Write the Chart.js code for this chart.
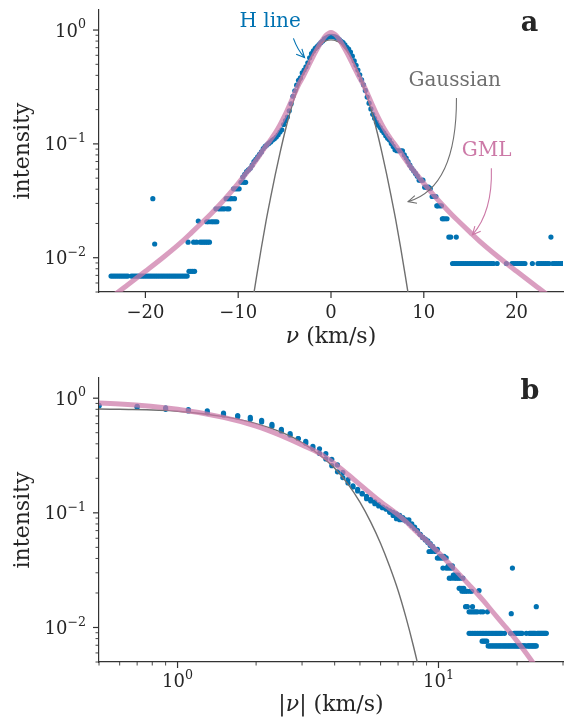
<!DOCTYPE html>
<html>
<head>
<meta charset="utf-8">
<script src="https://cdn.jsdelivr.net/npm/chart.js@4.4.0/dist/chart.umd.min.js"></script>
<style>
  html, body { margin: 0; padding: 0; background: #fff; }
  #wrap { position: relative; width: 567px; height: 719px; }
  .panel { position: absolute; left: 0; }
</style>
</head>
<body>
<div id="wrap">
  <div class="panel" style="top:0"><canvas id="chartA" width="567" height="360"></canvas></div>
  <div class="panel" style="top:360px"><canvas id="chartB" width="567" height="359"></canvas></div>
</div>
<script>
// measured H line profile (velocity in km/s, normalised intensity)
const velocity = [
  -23.7,-23.5,-23.3,-23.1,-22.9,-22.7,-22.5,-22.3,-22.1,-21.9,
  -21.5,-21.3,-21.1,-20.9,-20.7,-20.5,-20.3,-20.1,-19.9,-19.7,
  -19.5,-19.3,-19.1,-18.9,-18.7,-18.5,-18.3,-18.1,-17.9,-17.7,
  -17.5,-17.3,-17.1,-16.9,-16.7,-16.5,-16.3,-16.1,-15.9,-15.7,-15.5,
  -19.2,-19.0,-15.4,-15.3,-15.1,-14.9,-14.7,-14.8,-14.5,-14.3,
  -14.1,-13.9,-13.7,-13.5,-13.3,-13.1,-13.4,-13.2,-12.9,-12.7,-12.5,-12.3,
  -12.4,-12.1,-11.9,-11.7,-11.5,-11.2,-11.0,-11.3,-11.1,-10.9,-10.7,-10.4,
  -10.5,-10.3,-10.1,-9.9,-9.7,-9.4,-9.2,
  -9.5,-9.3,-9.1,-8.9,-8.7,-8.5,-8.3,-8.1,-7.9,-7.7,
  -7.5,-7.3,-7.1,-6.9,-6.7,-6.5,-6.3,-6.1,-5.9,-5.7,
  -5.5,-5.3,-5.1,-4.9,-4.7,-4.5,-4.3,-4.1,-3.9,-3.7,
  -3.5,-3.3,-3.1,-2.9,-2.7,-2.5,-2.3,-2.1,-1.9,-1.7,
  -1.5,-1.3,-1.1,-0.9,-0.7,-0.5,-0.3,-0.1,
  0.1,0.3,0.5,0.7,0.9,1.1,1.3,1.5,1.7,1.9,
  2.1,2.3,2.5,2.7,2.9,3.1,3.3,3.5,3.7,3.9,
  4.1,4.3,4.5,4.7,4.9,5.1,5.3,5.5,5.7,5.9,
  6.1,6.3,6.5,6.7,6.9,7.1,7.3,7.5,7.7,7.9,
  8.1,8.3,8.5,8.7,8.9,9.1,9.3,9.5,9.7,9.9,
  10.1,10.3,10.5,10.7,10.9,11.1,11.3,11.5,11.7,11.9,11.4,
  12.1,12.3,12.5,12.0,12.7,12.9,13.5,23.7,
  13.1,13.3,13.5,13.7,13.9,14.1,14.3,14.5,14.7,14.9,15.1,15.3,
  15.5,15.7,15.9,16.1,16.3,16.5,16.7,16.9,17.1,17.3,17.5,
  17.9,18.9,19.5,19.7,19.9,20.1,20.3,20.5,20.7,20.9,21.7,
  22.3,22.5,22.7,22.9,23.1,23.3,23.5,23.9,24.1,24.3,24.5,24.7,
  24.9,25.1,25.3,25.5,25.7,25.9
];
const intensity = [
  .0069,.0069,.0069,.0069,.0069,.0069,.0069,.0069,.0069,.0069,
  .0069,.0069,.0069,.0069,.0069,.0069,.0069,.0069,.0069,.0069,
  .0069,.0069,.0069,.0069,.0069,.0069,.0069,.0069,.0069,.0069,
  .0069,.0069,.0069,.0069,.0069,.0069,.0069,.0069,.0069,.0069,.0069,
  .033,.0132,.0137,.0076,.0076,.0076,.0076,.0137,.0137,.021,
  .0137,.0137,.0137,.0137,.0137,.0137,.0207,.0207,.0207,.0207,.0207,.0207,
  .0269,.0269,.0269,.0269,.0269,.0269,.0269,.033,.033,.033,.033,.033,
  .0403,.0403,.0403,.0403,.046,.046,.046,
  .051,.054,.057,.059,.061,.065,.070,.073,.077,.081,
  .085,.091,.095,.098,.101,.104,.108,.111,.115,.120,
  .127,.133,.148,.160,.172,.195,.225,.262,.293,.328,
  .362,.380,.420,.445,.475,.515,.570,.620,.655,.690,
  .715,.745,.775,.800,.835,.855,.872,.880,
  .880,.875,.865,.850,.825,.795,.775,.740,.705,.680,
  .640,.590,.535,.490,.445,.405,.365,.330,.295,.258,
  .228,.203,.182,.168,.155,.146,.139,.131,.125,.118,
  .112,.108,.101,.095,.089,.087,.087,.087,.087,.080,
  .075,.070,.065,.061,.058,.055,.052,.048,.048,.048,
  .0417,.0417,.0417,.0405,.0345,.0345,.0345,.0286,.0286,.0286,.0286,
  .022,.022,.022,.022,.0152,.0152,.0152,.0152,
  .0089,.0089,.0089,.0089,.0089,.0089,.0089,.0089,.0089,.0089,.0089,.0089,
  .0089,.0089,.0089,.0089,.0089,.0089,.0089,.0089,.0089,.0089,.0089,
  .0089,.0089,.0089,.0089,.0089,.0089,.0089,.0089,.0089,.0089,.0089,
  .0089,.0089,.0089,.0089,.0089,.0089,.0089,.0089,.0089,.0089,.0089,.0089,
  .0089,.0089,.0089,.0089,.0089,.0089
];

const curveV   = [0, 0.3, 0.6, 1, 1.5, 2, 2.5, 3, 3.5, 4, 4.5, 5, 5.5, 6, 6.5, 7, 7.5, 8, 8.5, 9, 10, 11, 12, 13, 14, 15, 16, 18, 20, 22, 24, 26];
const gmlI     = [0.95, 0.93, 0.89, 0.80, 0.68, 0.57, 0.47, 0.39, 0.33, 0.268, 0.216, 0.176, 0.147, 0.125, 0.109, 0.096, 0.084, 0.073, 0.064, 0.057, 0.045, 0.036, 0.0292, 0.0240, 0.0200, 0.0167, 0.0140, 0.0102, 0.0076, 0.0057, 0.0043, 0.0033];
const gaussV   = [0, 0.3, 0.6, 1, 1.5, 2, 2.5, 3, 3.5, 4, 4.5, 5, 5.5, 6, 6.5, 7, 7.5, 8, 8.5, 9];
const gaussI   = [0.82, 0.815, 0.80, 0.77, 0.69, 0.60, 0.505, 0.41, 0.32, 0.245, 0.178, 0.124, 0.083, 0.054, 0.034, 0.021, 0.0123, 0.0070, 0.0039, 0.0021];

const xTicksA = [-20, -10, 0, 10, 20];
const xLabelsA = ['\u221220', '\u221210', '0', '10', '20'];
const yMajor = [0.01, 0.1, 1];
const yExp = ['\u22122', '\u22121', '0'];
const xMajorB = [1, 10];
const xExpB = ['0', '1'];
// axis titles as [text, italic] pieces
const xTitleA = [['\u03bd', true], [' (km/s)', false]];
const xTitleB = [['|', false], ['\u03bd', true], ['| (km/s)', false]];

const blue = '#0072B2', pink = '#CC79A7', grey = '#6f6f6f', ink = '#262626', spine = '#333333';
Chart.defaults.font.family = "'DejaVu Serif', serif";
Chart.defaults.color = ink;

function minorTicks(lo, hi) {
  const out = [];
  for (let e = Math.floor(Math.log10(lo)); e <= Math.ceil(Math.log10(hi)); e++) {
    for (let m = 2; m <= 9; m++) {
      const v = m * Math.pow(10, e);
      if (v >= lo * 0.999 && v <= hi * 1.001) out.push(v);
    }
  }
  return out;
}
function logTicks(major, exps, lo, hi) {
  return major.map((v, i) => ({value: v, major: true, exp: exps[i]}))
    .concat(minorTicks(lo, hi).map(v => ({value: v, major: false})))
    .sort((a, b) => a.value - b.value);
}
function labelFor(values, labels) {
  return v => {
    const i = values.findIndex(t => Math.abs(t - v) < 1e-9 * Math.max(1, Math.abs(t)));
    return i >= 0 ? labels[i] : null;
  };
}

const points = velocity.map((v, i) => ({x: v, y: intensity[i]}));
const mirror = (xs, ys) => {
  const left = xs.slice(1).map((v, i) => ({x: -v, y: ys[i + 1]})).reverse();
  return left.concat(xs.map((v, i) => ({x: v, y: ys[i]})));
};
const positive = (xs, ys) => xs.map((v, i) => ({x: v, y: ys[i]})).filter(p => p.x > 0);

// annotations in data coordinates
const notes = {
  chartA: [
    {text: 'H line', color: blue, at: [-6.56, 1.175], arrow: {from: [-4.05, 0.846], ctrl: [-3.6, 0.668], to: [-2.85, 0.574]}},
    {text: 'Gaussian', color: grey, at: [13.33, 0.357], arrow: {from: [13.52, 0.253], ctrl: [13.55, 0.0412], to: [8.31, 0.0311]}},
    {text: 'GML', color: pink, at: [16.77, 0.0866], arrow: {from: [17.28, 0.0611], ctrl: [17.42, 0.0253], to: [15.24, 0.0159]}},
    {text: 'a', color: ink, bold: true, at: [21.4, 1.129]}
  ],
  chartB: [
    {text: 'b', color: ink, bold: true, at: [22.4, 1.13]}
  ]
};
const xTitles = {chartA: {parts: xTitleA, dy: 45}, chartB: {parts: xTitleB, dy: 43}};

const notePlugin = {
  id: 'notes',
  afterDraw(chart) {
    const list = notes[chart.canvas.id] || [];
    const {ctx, chartArea: area} = chart;
    const sx = chart.scales.x, sy = chart.scales.y;
    const px = p => [sx.getPixelForValue(p[0]), sy.getPixelForValue(p[1])];
    ctx.save();
    list.forEach(n => {
      const [tx, ty] = px(n.at);
      ctx.fillStyle = n.color;
      ctx.font = n.bold ? "bold 27px 'DejaVu Serif'" : "20px 'DejaVu Serif'";
      ctx.textAlign = 'center';
      ctx.textBaseline = 'middle';
      ctx.fillText(n.text, tx, ty);
      if (n.arrow) {
        const a = px(n.arrow.from), c = px(n.arrow.ctrl), b = px(n.arrow.to);
        ctx.strokeStyle = n.color;
        ctx.lineWidth = 1.1;
        ctx.beginPath();
        ctx.moveTo(a[0], a[1]);
        ctx.quadraticCurveTo(c[0], c[1], b[0], b[1]);
        ctx.stroke();
        const ang = Math.atan2(b[1] - c[1], b[0] - c[0]);
        const L = 9, w = 0.45;
        ctx.beginPath();
        ctx.moveTo(b[0] - L * Math.cos(ang - w), b[1] - L * Math.sin(ang - w));
        ctx.lineTo(b[0], b[1]);
        ctx.lineTo(b[0] - L * Math.cos(ang + w), b[1] - L * Math.sin(ang + w));
        ctx.stroke();
      }
    });
    // x axis title with an italic nu
    const t = xTitles[chart.canvas.id];
    if (t) {
      const fontOf = it => (it ? 'italic ' : '') + "22px 'DejaVu Serif'";
      const widths = t.parts.map(([s, it]) => { ctx.font = fontOf(it); return ctx.measureText(s).width; });
      let x = (area.left + area.right) / 2 - widths.reduce((a, b) => a + b, 0) / 2;
      ctx.fillStyle = ink;
      ctx.textAlign = 'left';
      ctx.textBaseline = 'middle';
      t.parts.forEach(([s, it], i) => {
        ctx.font = fontOf(it);
        ctx.fillText(s, x, area.bottom + t.dy);
        x += widths[i];
      });
    }
    ctx.restore();
  }
};

// tick marks (major longer than minor) and 10^n labels on the log axes
const tickPlugin = {
  id: 'tickMarks',
  afterDraw(chart) {
    const {ctx, chartArea: area} = chart;
    ctx.save();
    Object.values(chart.scales).forEach(s => {
      s.ticks.forEach(t => {
        const p = s.getPixelForValue(t.value);
        const len = t.major ? 6 : 3.5;
        ctx.strokeStyle = spine;
        ctx.lineWidth = t.major ? 1.2 : 0.9;
        ctx.beginPath();
        if (s.isHorizontal()) {
          if (p < area.left - 0.5 || p > area.right + 0.5) return;
          ctx.moveTo(p, area.bottom); ctx.lineTo(p, area.bottom + len);
        } else {
          if (p < area.top - 0.5 || p > area.bottom + 0.5) return;
          ctx.moveTo(area.left, p); ctx.lineTo(area.left - len, p);
        }
        ctx.stroke();
        if (s.type !== 'logarithmic' || !t.exp) return;
        ctx.fillStyle = ink;
        ctx.textBaseline = 'alphabetic';
        ctx.textAlign = 'left';
        ctx.font = "18px 'DejaVu Serif'";
        const wb = ctx.measureText('10').width;
        ctx.font = "12.6px 'DejaVu Serif'";
        const we = ctx.measureText(t.exp).width;
        let x0, base;
        if (s.isHorizontal()) {
          x0 = p - (wb + we) / 2;
          base = area.bottom + 25;
        } else {
          x0 = area.left - 13 - wb - we;
          base = p + 6.6;
        }
        ctx.font = "18px 'DejaVu Serif'";
        ctx.fillText('10', x0, base);
        ctx.font = "12.6px 'DejaVu Serif'";
        ctx.fillText(t.exp, x0 + wb, base - 8.5);
      });
    });
    ctx.restore();
  }
};

const tickFont = {size: 18};
const titleFont = {size: 22};

function yAxis() {
  return {
    type: 'logarithmic', min: 0.005, max: 1.5,
    afterBuildTicks: s => { s.ticks = logTicks(yMajor, yExp, 0.005, 1.5); },
    afterFit: s => { s.width = 99; s.paddingTop = 0; s.paddingBottom = 0; },
    ticks: {display: false},
    grid: {display: false},
    border: {display: true, color: spine, width: 1.2},
    title: {display: true, text: 'intensity', font: titleFont, color: ink, padding: {top: 10, bottom: 0}}
  };
}

function datasets(gml, gauss, pts) {
  return [
    {type: 'line', data: gml, borderColor: 'rgba(204,121,167,0.72)', borderWidth: 5, pointRadius: 0,
     cubicInterpolationMode: 'monotone', fill: false, order: 1, clip: 0},
    {type: 'line', data: gauss, borderColor: grey, borderWidth: 1.4, pointRadius: 0,
     cubicInterpolationMode: 'monotone', fill: false, order: 2, clip: 0},
    {type: 'scatter', data: pts, backgroundColor: blue, borderWidth: 0, pointRadius: 2.6, order: 3, clip: 0}
  ];
}

const common = {
  responsive: false, animation: false, events: [],
  plugins: {legend: {display: false}, tooltip: {enabled: false}}
};

new Chart(document.getElementById('chartA'), {
  type: 'scatter',
  data: {datasets: datasets(mirror(curveV, gmlI), mirror(gaussV, gaussI), points)},
  options: Object.assign({}, common, {
    layout: {padding: {top: 10, right: 4, left: 0, bottom: 0}},
    scales: {
      x: {
        type: 'linear', min: -25, max: 25,
        afterBuildTicks: s => { s.ticks = xTicksA.map(v => ({value: v, major: true})); },
        afterFit: s => { s.height = 68; s.paddingLeft = 0; s.paddingRight = 0; },
        ticks: {callback: labelFor(xTicksA, xLabelsA), font: tickFont, color: ink, padding: 3, autoSkip: false, maxRotation: 0},
        grid: {display: false},
        border: {display: true, color: spine, width: 1.2}
      },
      y: yAxis()
    }
  }),
  plugins: [tickPlugin, notePlugin]
});

new Chart(document.getElementById('chartB'), {
  type: 'scatter',
  data: {datasets: datasets(positive(curveV, gmlI), positive(gaussV, gaussI),
                            points.map(p => ({x: Math.abs(p.x), y: p.y})))},
  options: Object.assign({}, common, {
    layout: {padding: {top: 18, right: 4, left: 0, bottom: 0}},
    scales: {
      x: {
        type: 'logarithmic', min: 0.5, max: 30,
        afterBuildTicks: s => { s.ticks = logTicks(xMajorB, xExpB, 0.5, 30); },
        afterFit: s => { s.height = 57; s.paddingLeft = 0; s.paddingRight = 0; },
        ticks: {display: false},
        grid: {display: false},
        border: {display: true, color: spine, width: 1.2}
      },
      y: yAxis()
    }
  }),
  plugins: [tickPlugin, notePlugin]
});
</script>
</body>
</html>
